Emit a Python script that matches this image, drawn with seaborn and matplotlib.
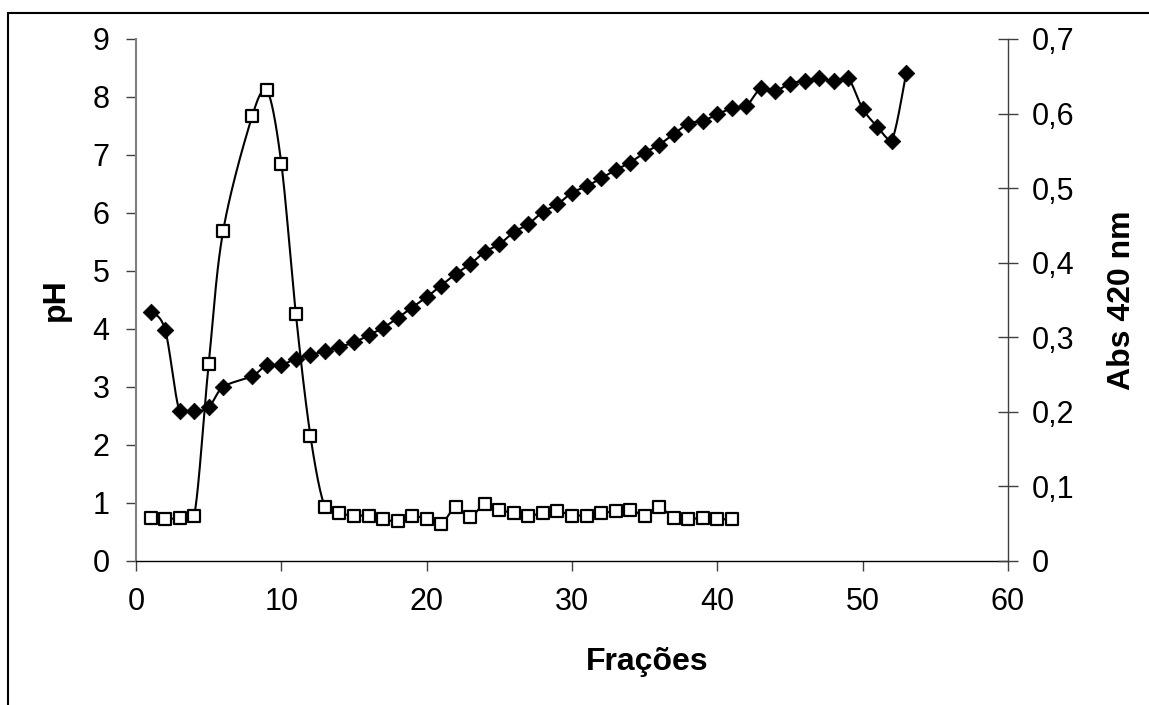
import numpy as np
import pandas as pd
import matplotlib
matplotlib.use("Agg")
import matplotlib.pyplot as plt
from matplotlib.lines import Line2D
import seaborn as sns

# ---- data ----
ph_frac = [1, 2, 3, 4, 5, 6, 8, 9, 10, 11, 12, 13, 14, 15, 16, 17, 18, 19, 20,
           21, 22, 23, 24, 25, 26, 27, 28, 29, 30, 31, 32, 33, 34, 35, 36, 37,
           38, 39, 40, 41, 42, 43, 44, 45, 46, 47, 48, 49, 50, 51, 52, 53]
ph_vals = [4.30, 3.99, 2.58, 2.58, 2.65, 3.00, 3.19, 3.38, 3.38, 3.49, 3.55,
           3.62, 3.69, 3.77, 3.89, 4.02, 4.19, 4.37, 4.55, 4.75, 4.95, 5.12,
           5.33, 5.46, 5.67, 5.81, 6.02, 6.15, 6.35, 6.46, 6.60, 6.74, 6.87,
           7.04, 7.18, 7.36, 7.54, 7.59, 7.70, 7.81, 7.85, 8.15, 8.11, 8.23,
           8.28, 8.32, 8.28, 8.32, 7.80, 7.49, 7.25, 8.42]

abs_frac = [1, 2, 3, 4, 5, 6, 8, 9, 10, 11, 12, 13, 14, 15, 16, 17, 18, 19, 20,
            21, 22, 23, 24, 25, 26, 27, 28, 29, 30, 31, 32, 33, 34, 35, 36, 37,
            38, 39, 40, 41]
abs_vals = [0.058, 0.056, 0.058, 0.060, 0.264, 0.443, 0.597, 0.632, 0.533,
            0.331, 0.168, 0.072, 0.064, 0.061, 0.061, 0.056, 0.053, 0.061,
            0.056, 0.050, 0.072, 0.059, 0.077, 0.069, 0.064, 0.061, 0.064,
            0.067, 0.061, 0.061, 0.064, 0.067, 0.069, 0.061, 0.072, 0.058,
            0.056, 0.058, 0.056, 0.056]

x_ticks = [0, 10, 20, 30, 40, 50, 60]
ph_ticks = [0, 1, 2, 3, 4, 5, 6, 7, 8, 9]
abs_ticks = [0, 0.1, 0.2, 0.3, 0.4, 0.5, 0.6, 0.7]
abs_tick_labels = ["0", "0,1", "0,2", "0,3", "0,4", "0,5", "0,6", "0,7"]


def smooth(xs, ys, n=24):
    """Smoothed line through the points (Bezier, control points kept in segment range)."""
    P = np.column_stack([xs, ys]).astype(float)
    ext = np.vstack([P[0], P, P[-1]])
    t = np.linspace(0, 1, n)[:, None]
    out = []
    for i in range(len(P) - 1):
        p0, p3 = ext[i + 1], ext[i + 2]
        c1 = p0 + (ext[i + 2] - ext[i]) / 6.0
        c2 = p3 - (ext[i + 3] - ext[i + 1]) / 6.0
        lo, hi = min(p0[1], p3[1]), max(p0[1], p3[1])
        c1[1] = np.clip(c1[1], lo, hi)
        c2[1] = np.clip(c2[1], lo, hi)
        seg = ((1 - t) ** 3) * p0 + 3 * ((1 - t) ** 2) * t * c1 + 3 * (1 - t) * t ** 2 * c2 + t ** 3 * p3
        out.append(seg if i == 0 else seg[1:])
    S = np.vstack(out)
    return S[:, 0], S[:, 1]


sns.set_theme(style="white")
plt.rcParams["font.family"] = ["Liberation Sans", "DejaVu Sans"]
plt.rcParams["text.color"] = "black"
plt.rcParams["axes.labelcolor"] = "black"
plt.rcParams["xtick.color"] = "black"
plt.rcParams["ytick.color"] = "black"

W, H = 1149, 705
fig = plt.figure(figsize=(W / 100, H / 100), dpi=100)
L, R, B, T = 136, 1008, 561, 39
ax = fig.add_axes([L / W, 1 - B / H, (R - L) / W, (B - T) / H])
ax2 = ax.twinx()

# pH series (left axis)
sx, sy = smooth(ph_frac, ph_vals)
sns.lineplot(x=sx, y=sy, ax=ax, sort=False, estimator=None, color="black", linewidth=1.5)
sns.scatterplot(x=ph_frac, y=ph_vals, ax=ax, marker="D", s=72, color="black",
                edgecolor="black", linewidth=0.5, zorder=5)

# Abs series (right axis)
ax2x, ax2y = smooth(abs_frac, abs_vals)
sns.lineplot(x=ax2x, y=ax2y, ax=ax2, sort=False, estimator=None, color="black", linewidth=1.5)
sns.scatterplot(x=abs_frac, y=abs_vals, ax=ax2, marker="s", s=64, color="white",
                edgecolor="black", linewidth=1.6, zorder=5)

ax.set_xlim(0, 60)
ax.set_ylim(0, 9)
ax2.set_ylim(0, 0.7)
ax.set_xticks(x_ticks)
ax.set_xticklabels([str(v) for v in x_ticks])
ax.set_yticks(ph_ticks)
ax.set_yticklabels([str(v) for v in ph_ticks])
ax2.set_yticks(abs_ticks)
ax2.set_yticklabels(abs_tick_labels)

for a in (ax, ax2):
    a.set_facecolor("none")
    a.grid(False)
    for s in a.spines.values():
        s.set_visible(False)

ax.spines["left"].set_visible(True)
ax.spines["left"].set_color("#808080")
ax.spines["left"].set_linewidth(1.5)
ax.spines["bottom"].set_visible(True)
ax.spines["bottom"].set_color("#000000")
ax.spines["bottom"].set_linewidth(1.0)
ax2.spines["right"].set_visible(True)
ax2.spines["right"].set_color("#404040")
ax2.spines["right"].set_linewidth(1.0)

ax.tick_params(axis="x", direction="out", length=7, width=1, color="#404040",
               labelcolor="black", labelsize=22, pad=12, bottom=True)
ax.tick_params(axis="y", direction="out", length=7, width=1, color="#404040",
               labelcolor="black", labelsize=22, pad=12, left=True)
ax2.tick_params(axis="y", direction="inout", length=14, width=1, color="#404040",
                labelcolor="black", labelsize=22, pad=10, right=True)

ax.set_xlabel("Frações", fontsize=23, fontweight="bold", color="black")
ax.set_ylabel("pH", fontsize=23, fontweight="bold", color="black")
ax2.set_ylabel("Abs 420 nm", fontsize=23, fontweight="bold", color="black")
ax.xaxis.set_label_coords((647 - L) / (R - L), -0.165)
ax.yaxis.set_label_coords((71 - L) / (R - L), 0.5)
ax2.yaxis.set_label_coords((1107 - L) / (R - L), 0.5)

# outer chart-area frame (top and left edges visible)
fig.add_artist(Line2D([7.5 / W, 7.5 / W], [0, 1 - 13 / H], transform=fig.transFigure,
                      color="black", linewidth=1.5))
fig.add_artist(Line2D([7.5 / W, 1], [1 - 13 / H, 1 - 13 / H], transform=fig.transFigure,
                      color="black", linewidth=1.5))

fig.savefig("out.png", dpi=100, facecolor="white")
